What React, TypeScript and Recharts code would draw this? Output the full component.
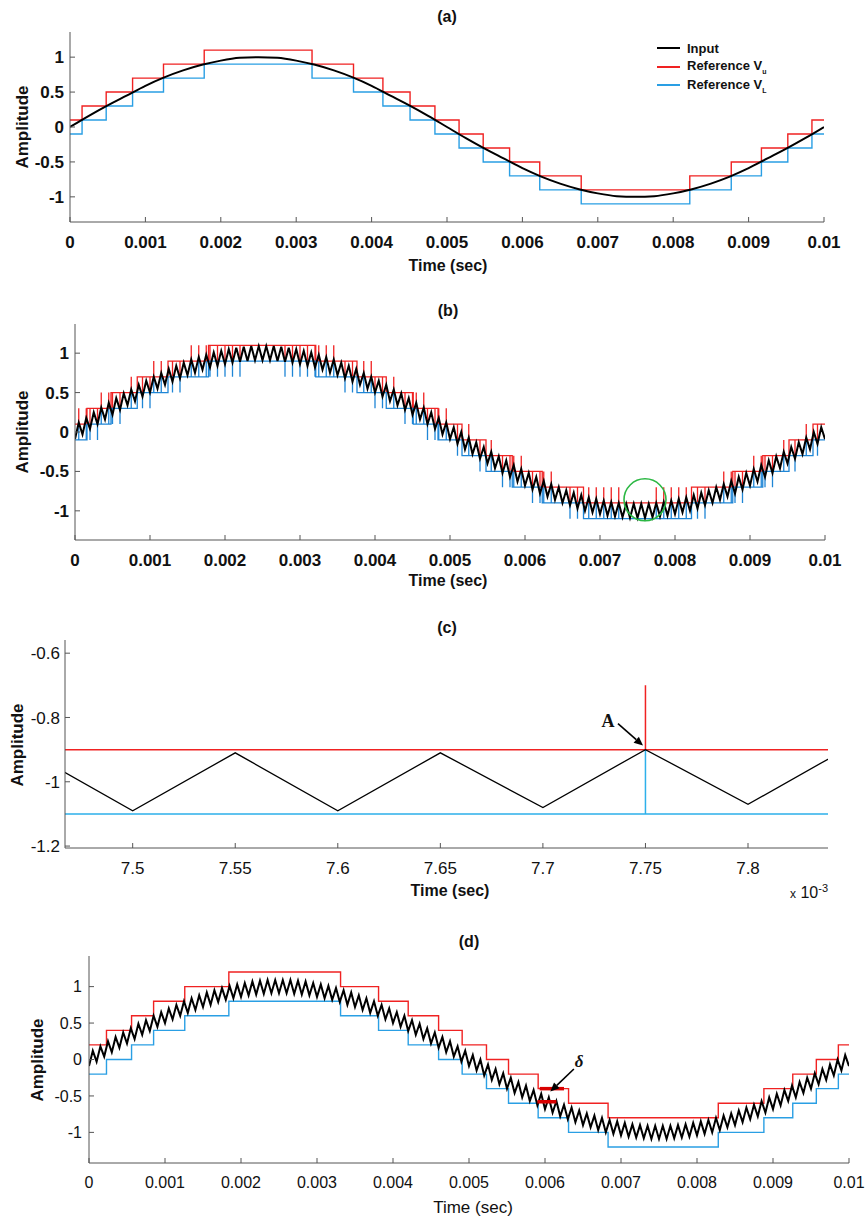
import type { ReactNode } from "react";
import {
  LineChart,
  Line,
  XAxis,
  YAxis,
  Legend,
  ReferenceDot,
  ReferenceLine,
} from "recharts";

const FONT = "'Liberation Sans', Arial, Helvetica, sans-serif";
const SERIF = "'Liberation Serif', 'Times New Roman', serif";
const RED = "#f02222";
const BLUE = "#2a9fe4";
const BLACK = "#000000";
const FRAME = "#555555";

// ---- axes (time in ms, shown in seconds) ----
const TIME_TICKS = [0, 1, 2, 3, 4, 5, 6, 7, 8, 9, 10];
const TIME_TICK_LABELS = [
  "0", "0.001", "0.002", "0.003", "0.004", "0.005",
  "0.006", "0.007", "0.008", "0.009", "0.01",
];
const AMP_TICKS = [-1, -0.5, 0, 0.5, 1];
const ZOOM_TIME_TICKS = [7.5, 7.55, 7.6, 7.65, 7.7, 7.75, 7.8];
const ZOOM_AMP_TICKS = [-1.2, -1, -0.8, -0.6];

// ---- (a) smooth input, one sample every 0.25 ms ----
const SMOOTH_STEP_MS = 0.25;
const SMOOTH_INPUT = [
  0, 0.16, 0.31, 0.45, 0.59, 0.71, 0.81, 0.89, 0.95, 0.99, 1.0,
  0.99, 0.95, 0.89, 0.81, 0.71, 0.59, 0.45, 0.31, 0.16, 0,
  -0.16, -0.31, -0.45, -0.59, -0.71, -0.81, -0.89, -0.95, -0.99, -1.0,
  -0.99, -0.95, -0.89, -0.81, -0.71, -0.59, -0.45, -0.31, -0.16, 0,
];

// ---- (a)-(c) reference bands ----
const BAND_SWITCH_MS = [
  0.16, 0.48, 0.83, 1.24, 1.78, 3.21, 3.76, 4.15, 4.51, 4.84,
  5.16, 5.48, 5.83, 6.23, 6.78, 8.22, 8.77, 9.17, 9.52, 9.84,
];
const UPPER_LEVELS = [
  0.1, 0.3, 0.5, 0.7, 0.9, 1.1, 0.9, 0.7, 0.5, 0.3, 0.1,
  -0.1, -0.3, -0.5, -0.7, -0.9, -0.7, -0.5, -0.3, -0.1, 0.1,
];
const LOWER_LEVELS = [
  -0.1, 0.1, 0.3, 0.5, 0.7, 0.9, 0.7, 0.5, 0.3, 0.1, -0.1,
  -0.3, -0.5, -0.7, -0.9, -1.1, -0.9, -0.7, -0.5, -0.3, -0.1,
];

// ---- (b)-(d) rippled input, one vertex every 0.05 ms ----
const RIPPLE_STEP_MS = 0.05;
const RIPPLE_INPUT = [
  -0.09, 0.12, -0.03, 0.18, 0.04, 0.25, 0.1, 0.31, 0.16, 0.37,
  0.22, 0.43, 0.28, 0.49, 0.34, 0.54, 0.39, 0.6, 0.45, 0.65,
  0.5, 0.7, 0.55, 0.75, 0.6, 0.8, 0.64, 0.84, 0.68, 0.88,
  0.72, 0.92, 0.75, 0.95, 0.79, 0.98, 0.82, 1.01, 0.84, 1.03,
  0.86, 1.05, 0.88, 1.07, 0.89, 1.08, 0.9, 1.09, 0.91, 1.09,
  0.91,
  1.09, 0.91, 1.09, 0.9, 1.08, 0.89, 1.07, 0.88, 1.05, 0.86,
  1.03, 0.84, 1.01, 0.82, 0.98, 0.79, 0.95, 0.75, 0.92, 0.72,
  0.88, 0.68, 0.84, 0.64, 0.8, 0.6, 0.75, 0.55, 0.7, 0.5,
  0.65, 0.45, 0.6, 0.39, 0.54, 0.34, 0.49, 0.28, 0.43, 0.22,
  0.37, 0.16, 0.31, 0.1, 0.25, 0.04, 0.18, -0.03, 0.12, -0.09,
  0.06, -0.15, 0.0, -0.22, -0.07, -0.28, -0.13, -0.34, -0.19, -0.4,
  -0.25, -0.46, -0.31, -0.52, -0.36, -0.57, -0.42, -0.63, -0.47, -0.68,
  -0.52, -0.73, -0.57, -0.78, -0.62, -0.82, -0.66, -0.86, -0.7, -0.9,
  -0.74, -0.93, -0.77, -0.97, -0.8, -1.0, -0.83, -1.02, -0.85, -1.04,
  -0.87, -1.06, -0.89, -1.07, -0.9, -1.08, -0.91, -1.09, -0.91, -1.09,
  -0.91, -1.09, -0.91, -1.08, -0.9, -1.07, -0.89, -1.06, -0.87, -1.04,
  -0.85, -1.02, -0.83, -1.0, -0.8, -0.97, -0.77, -0.93, -0.74, -0.9,
  -0.7, -0.86, -0.66, -0.82, -0.62, -0.78, -0.57, -0.73, -0.52, -0.68,
  -0.47, -0.63, -0.42, -0.57, -0.36, -0.52, -0.31, -0.46, -0.25, -0.4,
  -0.19, -0.34, -0.13, -0.28, -0.07, -0.22, 0.0, -0.15, 0.06, -0.09,
];

// moments where both references jump one band (b, c)
const SPIKE_SIZE = 0.2;
const SPIKES_UP_MS = [
  0.05, 0.15, 0.35, 0.45, 0.75, 1.05, 1.15, 1.55, 1.65, 1.75,
  3.25, 3.35, 3.45, 3.85, 3.95, 4.25, 4.55, 4.65, 4.85, 4.95,
  5.25, 5.55, 5.85, 5.95, 6.25, 6.35, 6.85, 6.95, 7.05, 7.15, 7.25,
  7.75, 7.85, 7.95, 8.05, 8.15, 8.65, 8.75, 9.05, 9.15, 9.45, 9.75,
];
const SPIKES_DOWN_MS = [
  0.2, 0.3, 0.5, 0.6, 0.9, 1.0, 1.3, 1.4, 1.8, 1.9, 2.0, 2.1, 2.2,
  2.8, 2.9, 3.0, 3.1, 3.2, 3.6, 3.7, 4.0, 4.1, 4.4, 4.5, 4.7, 4.8,
  5.1, 5.4, 5.7, 5.8, 6.1, 6.2, 6.6, 6.7, 8.3, 8.4, 8.8, 8.9,
  9.2, 9.3, 9.6, 9.9,
];

// ---- (d) wider reference bands ----
const D_SWITCH_MS = [
  0.23, 0.56, 0.85, 1.26, 1.84, 3.31, 3.81, 4.2, 4.6, 4.91,
  5.23, 5.52, 5.91, 6.31, 6.83, 8.28, 8.88, 9.26, 9.57, 9.86,
];
const D_UPPER_LEVELS = [
  0.2, 0.4, 0.6, 0.8, 1.0, 1.2, 1.0, 0.8, 0.6, 0.4, 0.2,
  0, -0.2, -0.4, -0.6, -0.8, -0.6, -0.4, -0.2, 0, 0.2,
];
const D_LOWER_LEVELS = [
  -0.2, 0, 0.2, 0.4, 0.6, 0.8, 0.6, 0.4, 0.2, 0, -0.2,
  -0.4, -0.6, -0.8, -1.0, -1.2, -1.0, -0.8, -0.6, -0.4, -0.2,
];

const LEGEND_ITEMS = [
  { label: "Input", sub: "", color: BLACK },
  { label: "Reference V", sub: "u", color: RED },
  { label: "Reference V", sub: "L", color: BLUE },
];

type Pt = { t: number; v: number };

function stepSeries(switches: number[], levels: number[]): Pt[] {
  const pts: Pt[] = [{ t: 0, v: levels[0] }];
  switches.forEach((t, i) => pts.push({ t, v: levels[i + 1] }));
  pts.push({ t: 10, v: levels[levels.length - 1] });
  return pts;
}

function spikedSeries(switches: number[], levels: number[]): Pt[] {
  const events = [
    ...switches.map((t, i) => ({ t, kind: 0, i: i + 1 })),
    ...SPIKES_UP_MS.map((t) => ({ t, kind: 1, i: 0 })),
    ...SPIKES_DOWN_MS.map((t) => ({ t, kind: -1, i: 0 })),
  ].sort((a, b) => a.t - b.t);
  let cur = levels[0];
  const pts: Pt[] = [{ t: 0, v: cur }];
  for (const e of events) {
    pts.push({ t: e.t, v: cur });
    if (e.kind === 0) {
      cur = levels[e.i];
      pts.push({ t: e.t, v: cur });
    } else {
      pts.push({ t: e.t, v: cur + e.kind * SPIKE_SIZE }, { t: e.t, v: cur });
    }
  }
  pts.push({ t: 10, v: cur });
  return pts;
}

const smoothData = SMOOTH_INPUT.map((v, i) => ({ t: i * SMOOTH_STEP_MS, v }));
const rippleData = RIPPLE_INPUT.map((v, i) => ({ t: i * RIPPLE_STEP_MS, v }));
const upperA = stepSeries(BAND_SWITCH_MS, UPPER_LEVELS);
const lowerA = stepSeries(BAND_SWITCH_MS, LOWER_LEVELS);
const upperB = spikedSeries(BAND_SWITCH_MS, UPPER_LEVELS);
const lowerB = spikedSeries(BAND_SWITCH_MS, LOWER_LEVELS);
const upperD = stepSeries(D_SWITCH_MS, D_UPPER_LEVELS);
const lowerD = stepSeries(D_SWITCH_MS, D_LOWER_LEVELS);

const timeLabel = (v: number) => TIME_TICK_LABELS[TIME_TICKS.indexOf(v)] ?? String(v);

const arrowShape = (p: any) => {
  const { x1, y1, x2, y2 } = p;
  const ang = Math.atan2(y2 - y1, x2 - x1);
  const len = 9;
  const half = 4;
  const bx = x2 - len * Math.cos(ang);
  const by = y2 - len * Math.sin(ang);
  const head = `${x2},${y2} ${bx - half * Math.sin(ang)},${by + half * Math.cos(ang)} ${bx + half * Math.sin(ang)},${by - half * Math.cos(ang)}`;
  return (
    <g>
      <line x1={x1} y1={y1} x2={bx} y2={by} stroke="#000" strokeWidth={1.6} />
      <polygon points={head} fill="#000" />
    </g>
  );
};

type PanelProps = {
  top: number;
  box: [number, number, number, number];
  xDomain: [number, number];
  yDomain: [number, number];
  xTicks: number[];
  yTicks: number[];
  tickStyle: any;
  yTickMargin: number;
  children: ReactNode;
};

function Panel({ top, box, xDomain, yDomain, xTicks, yTicks, tickStyle, yTickMargin, children }: PanelProps) {
  const [left, boxTop, right, boxBottom] = box;
  const axisH = 34;
  return (
    <div style={{ position: "absolute", left: 0, top }}>
      <LineChart
        width={866}
        height={boxBottom - top + axisH}
        margin={{ top: boxTop - top, right: 866 - right, bottom: 0, left: 0 }}
      >
        <XAxis
          type="number"
          dataKey="t"
          domain={xDomain}
          ticks={xTicks}
          interval={0}
          allowDataOverflow
          tickFormatter={xDomain[0] === 0 ? timeLabel : (v: number) => String(v)}
          tickSize={-5}
          tickMargin={19}
          height={axisH}
          stroke={FRAME}
          tick={tickStyle}
        />
        <XAxis
          xAxisId="top"
          orientation="top"
          type="number"
          domain={xDomain}
          ticks={xTicks}
          interval={0}
          allowDataOverflow
          tick={false}
          tickSize={-5}
          height={0}
          stroke={FRAME}
        />
        <YAxis
          type="number"
          domain={yDomain}
          ticks={yTicks}
          interval={0}
          allowDataOverflow
          tickSize={-5}
          tickMargin={yTickMargin}
          width={left}
          stroke={FRAME}
          tick={tickStyle}
        />
        <YAxis
          yAxisId="right"
          orientation="right"
          type="number"
          domain={yDomain}
          ticks={yTicks}
          interval={0}
          allowDataOverflow
          tick={false}
          tickSize={-5}
          width={0}
          stroke={FRAME}
        />
        {children}
      </LineChart>
    </div>
  );
}

function Caption({
  x, y, children, size = 16, weight = 700, rotate = 0, family = FONT, shift = "-50%",
}: {
  x: number; y: number; children: ReactNode; size?: number; weight?: number;
  rotate?: number; family?: string; shift?: string;
}) {
  return (
    <div
      style={{
        position: "absolute",
        left: x,
        top: y,
        transform: `translate(${shift}, -50%) rotate(${rotate}deg)`,
        fontSize: size,
        fontWeight: weight,
        fontFamily: family,
        whiteSpace: "nowrap",
        lineHeight: 1,
        color: "#111",
      }}
    >
      {children}
    </div>
  );
}

function LegendBox() {
  return (
    <div style={{ fontFamily: FONT, fontSize: 13, fontWeight: 700, color: "#111" }}>
      {LEGEND_ITEMS.map((item, i) => (
        <div key={i} style={{ display: "flex", alignItems: "center", height: 18.5 }}>
          <span style={{ width: 23, borderTop: `2px solid ${item.color}`, marginRight: 7 }} />
          <span>
            {item.label}
            {item.sub && <sub style={{ fontSize: 7 }}>{item.sub}</sub>}
          </span>
        </div>
      ))}
    </div>
  );
}

const boldTicks = { fontSize: 17, fontWeight: 700, fill: "#111", fontFamily: FONT };
const plainTicks = { fontSize: 17, fill: "#111", fontFamily: FONT };
const plainTicksD = { fontSize: 16, fill: "#111", fontFamily: FONT };

export default function App() {
  return (
    <div
      style={{
        position: "absolute",
        left: 0,
        top: 0,
        width: 866,
        height: 1220,
        background: "#fff",
        fontFamily: FONT,
      }}
    >
      {/* (a) */}
      <Panel
        top={0}
        box={[70, 32, 824, 222]}
        xDomain={[0, 10]}
        yDomain={[-1.36, 1.36]}
        xTicks={TIME_TICKS}
        yTicks={AMP_TICKS}
        tickStyle={boldTicks}
        yTickMargin={11}
      >
        <Line data={upperA} dataKey="v" type="stepAfter" stroke={RED} strokeWidth={1.4} dot={false} isAnimationActive={false} />
        <Line data={lowerA} dataKey="v" type="stepAfter" stroke={BLUE} strokeWidth={1.4} dot={false} isAnimationActive={false} />
        <Line data={smoothData} dataKey="v" type="monotone" stroke={BLACK} strokeWidth={2} dot={false} isAnimationActive={false} />
        <Legend
          layout="vertical"
          align="center"
          verticalAlign="middle"
          wrapperStyle={{ left: 657, top: 39, width: 170 }}
          content={() => <LegendBox />}
        />
      </Panel>

      {/* (b) */}
      <Panel
        top={300}
        box={[75, 324, 825, 540]}
        xDomain={[0, 10]}
        yDomain={[-1.37, 1.37]}
        xTicks={TIME_TICKS}
        yTicks={AMP_TICKS}
        tickStyle={boldTicks}
        yTickMargin={11}
      >
        <Line data={upperB} dataKey="v" type="linear" stroke={RED} strokeWidth={1.3} dot={false} isAnimationActive={false} />
        <Line data={lowerB} dataKey="v" type="linear" stroke="#1f86d6" strokeWidth={1.3} dot={false} isAnimationActive={false} />
        <Line data={rippleData} dataKey="v" type="linear" stroke={BLACK} strokeWidth={2} dot={false} isAnimationActive={false} />
        <ReferenceDot x={7.6} y={-0.86} r={21} fill="none" stroke="#2cb844" strokeWidth={1.6} />
      </Panel>

      {/* (c) */}
      <Panel
        top={620}
        box={[65, 640, 828, 848]}
        xDomain={[7.467, 7.839]}
        yDomain={[-1.206, -0.559]}
        xTicks={ZOOM_TIME_TICKS}
        yTicks={ZOOM_AMP_TICKS}
        tickStyle={plainTicks}
        yTickMargin={10}
      >
        <Line data={upperB} dataKey="v" type="linear" stroke={RED} strokeWidth={1.5} dot={false} isAnimationActive={false} />
        <Line data={lowerB} dataKey="v" type="linear" stroke="#2db0ea" strokeWidth={1.5} dot={false} isAnimationActive={false} />
        <Line data={rippleData} dataKey="v" type="linear" stroke={BLACK} strokeWidth={1.3} dot={false} isAnimationActive={false} />
        <ReferenceLine segment={[{ x: 7.7366, y: -0.819 }, { x: 7.7488, y: -0.8875 }]} shape={arrowShape} />
        <ReferenceDot
          x={7.7317}
          y={-0.809}
          r={0}
          label={{ value: "A", position: "center", fontSize: 18, fontWeight: 700, fontFamily: SERIF, fill: "#111" }}
        />
      </Panel>

      {/* (d) */}
      <Panel
        top={935}
        box={[89, 956, 849, 1163]}
        xDomain={[0, 10]}
        yDomain={[-1.42, 1.42]}
        xTicks={TIME_TICKS}
        yTicks={AMP_TICKS}
        tickStyle={plainTicksD}
        yTickMargin={12}
      >
        <Line data={upperD} dataKey="v" type="stepAfter" stroke={RED} strokeWidth={1.4} dot={false} isAnimationActive={false} />
        <Line data={lowerD} dataKey="v" type="stepAfter" stroke={BLUE} strokeWidth={1.4} dot={false} isAnimationActive={false} />
        <Line data={rippleData} dataKey="v" type="linear" stroke={BLACK} strokeWidth={2} dot={false} isAnimationActive={false} />
        <ReferenceLine segment={[{ x: 5.93, y: -0.4 }, { x: 6.25, y: -0.4 }]} stroke="#d80000" strokeWidth={3.5} />
        <ReferenceLine segment={[{ x: 5.9, y: -0.58 }, { x: 6.15, y: -0.58 }]} stroke="#d80000" strokeWidth={3.5} />
        <ReferenceLine segment={[{ x: 6.38, y: -0.13 }, { x: 6.07, y: -0.44 }]} shape={arrowShape} />
        <ReferenceDot
          x={6.45}
          y={-0.02}
          r={0}
          label={{ value: "δ", position: "center", fontSize: 17, fontWeight: 700, fontStyle: "italic", fontFamily: SERIF, fill: "#111" }}
        />
      </Panel>

      <Caption x={447} y={17}>(a)</Caption>
      <Caption x={448} y={266}>Time (sec)</Caption>
      <Caption x={22} y={127} size={17} rotate={-90}>Amplitude</Caption>

      <Caption x={448} y={311}>(b)</Caption>
      <Caption x={448} y={581}>Time (sec)</Caption>
      <Caption x={22} y={432} size={17} rotate={-90}>Amplitude</Caption>

      <Caption x={447} y={628}>(c)</Caption>
      <Caption x={450} y={891}>Time (sec)</Caption>
      <Caption x={17} y={745} size={17} rotate={-90}>Amplitude</Caption>
      <Caption x={828} y={892} size={16} weight={400} shift="-100%">
        <span style={{ fontSize: 12 }}>x</span> 10<sup style={{ fontSize: 11 }}>-3</sup>
      </Caption>

      <Caption x={469} y={942}>(d)</Caption>
      <Caption x={473} y={1207} size={17} weight={400}>Time (sec)</Caption>
      <Caption x={37} y={1060} size={17} rotate={-90}>Amplitude</Caption>
    </div>
  );
}
